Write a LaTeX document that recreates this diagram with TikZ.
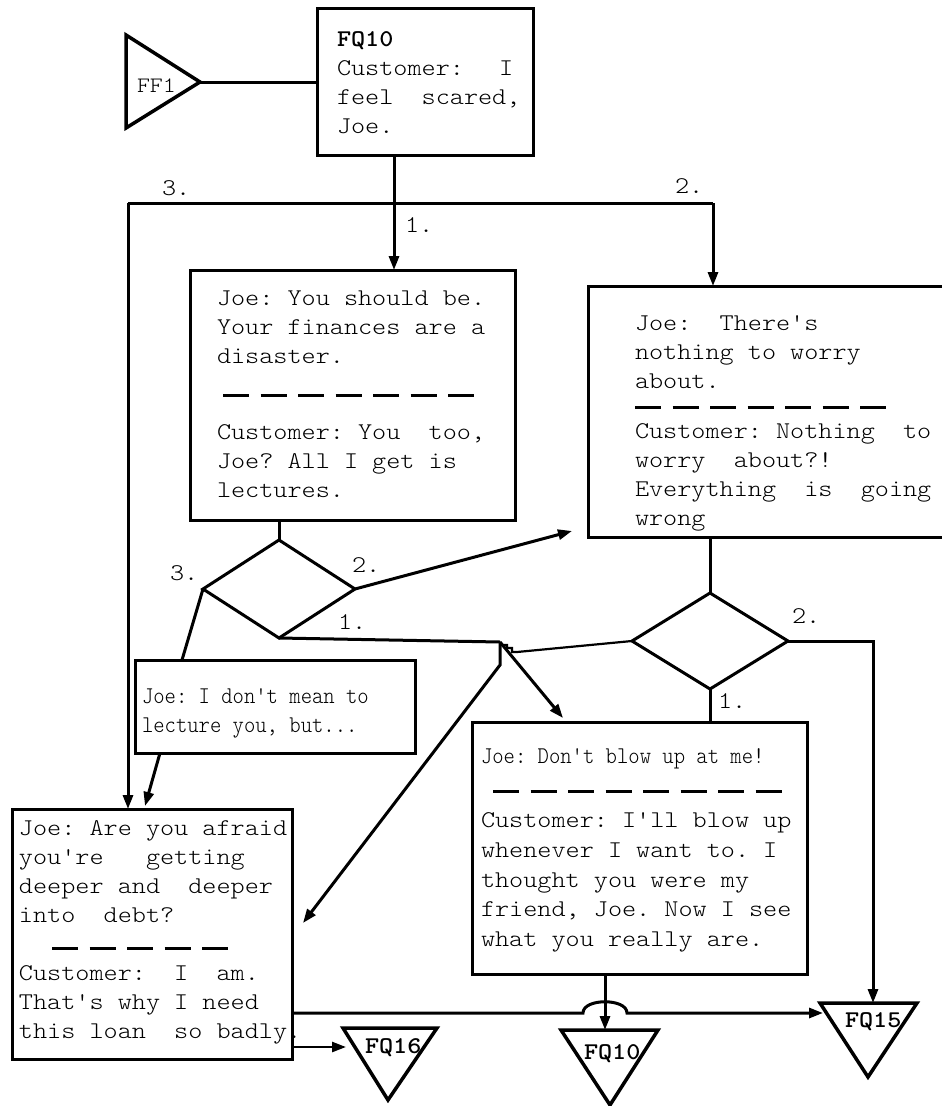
\documentclass[tikz,border=0pt]{standalone}
\usepackage{fontspec}
\setmonofont{lmmonolt10-regular.otf}[BoldFont=lmmonolt10-bold.otf,FakeStretch=1.12]
\newfontfamily\narrowtt{lmmonolt10-regular.otf}[FakeStretch=0.9,WordSpace={1,0,0},PunctuationSpace=WordSpace]
\usetikzlibrary{shapes.geometric,arrows.meta,calc}
\newcommand\dlgfont{\ttfamily\fontsize{24pt}{29pt}\selectfont}
\frenchspacing

\begin{document}
\begin{tikzpicture}[x=1pt,y=-1pt,
  every node/.style={inner sep=0pt, outer sep=0pt},
  box/.style={draw, line width=3pt, rectangle, anchor=north west},
  txt/.style={anchor=base west, font=\dlgfont},
  lbl/.style={anchor=base west, font=\dlgfont},
  tag/.style={anchor=base west, font=\dlgfont\bfseries},
  wire/.style={line width=3pt},
  arr/.style={line width=3pt, -{Triangle[length=14pt,width=10pt]}},
  tri/.style={draw, line width=3.5pt, line join=miter},
  sep/.style={line width=3pt, dash pattern=on 26pt off 11.5pt},
  diam/.style={draw, diamond, line width=3pt, inner sep=0pt}
]
\fill[white] (0,0) rectangle (942,1106);
\useasboundingbox (0,0) rectangle (942,1106);
\clip (0,0) rectangle (942,1106);

% ---------- boxes ----------
\node[box, minimum width=216pt, minimum height=147pt] (fq) at (317,8) {};
\node[box, minimum width=325pt, minimum height=250pt] (A)  at (190,270) {};
\node[box, minimum width=400pt, minimum height=251pt] (B)  at (588,286) {};
\node[box, minimum width=280pt, minimum height=93pt]  (C)  at (135,660) {};
\node[box, minimum width=280pt, minimum height=250pt] (D)  at (12,809) {};
\node[box, minimum width=335pt, minimum height=252pt] (E)  at (472,722) {};

% ---------- decisions ----------
\node[diam, minimum width=152pt, minimum height=98pt] (d1) at (279,589) {};
\node[diam, minimum width=156pt, minimum height=96pt] (d2) at (710,641) {};

% ---------- box texts ----------
\node[txt] (fqtxt) at (337,46) {\parbox[t]{400pt}{\raggedright
  \textbf{FQ10}\\
  Customer:~~\hspace{7pt}I\\
  feel~~scared,\\
  Joe.}};

\node[txt] (Atxt) at (217,305) {\parbox[t]{400pt}{\raggedright
  Joe: You should be.\\
  Your finances are a\\
  disaster.\\[47pt]
  Customer: You~~too,\\
  Joe? All I get is\\
  lectures.}};
\draw[sep] (223,395) -- (474,395);

\node[txt] (Btxt) at (635,330) {\parbox[t]{400pt}{\raggedright
  Joe:~~There's\\
  nothing to worry\\
  about.\\[21pt]
  Customer: Nothing~~to\\
  worry~~about?!\\
  Everything~~is~~going\\
  wrong}};
\draw[sep] (635,407) -- (886,407);

\node[txt] (Ctxt) at (142,703) {\parbox[t]{400pt}{\raggedright\narrowtt
  Joe: I don't mean to\\
  lecture you, but...}};

\node[txt] (Dtxt) at (19,835) {\parbox[t]{400pt}{\raggedright
  Joe: Are you afraid\\
  you're~~~getting\\
  deeper and~~deeper\\
  into~~debt?\\[29pt]
  Customer:~~I~~am.\\
  That's why I need\\
  this loan~~so badly.}};
\draw[sep] (52,948) -- (228,948);

\node[txt] (Etxt) at (481,763) {\parbox[t]{400pt}{\raggedright
  \fontsize{24pt}{29.7pt}\selectfont
  {\narrowtt Joe: Don't blow up at me!}\\[35pt]
  Customer: I'll blow up\\
  whenever I want to. I\\
  thought you were my\\
  friend, Joe. Now I see\\
  what you really are.}};
\draw[sep] (493,791) -- (781.5,791);

% ---------- off-page connectors ----------
\coordinate (ff1a) at (126,35);
\coordinate (ff1b) at (126,128);
\coordinate (ff1tip) at (200,82);
\draw[tri] (ff1a) -- (ff1tip) -- (ff1b) -- cycle;
\node[lbl, font=\ttfamily\fontsize{22pt}{26pt}\selectfont] (ff1) at (137,92) {FF1};

\coordinate (fq16a) at (343,1028);
\coordinate (fq16b) at (437,1028);
\coordinate (fq16c) at (388,1100);
\draw[tri] (fq16a) -- (fq16b) -- (fq16c) -- cycle;
\node[tag] (fq16) at (365,1053) {FQ16};

\coordinate (fq10a) at (561,1030);
\coordinate (fq10b) at (658,1030);
\coordinate (fq10c) at (610,1105);
\draw[tri] (fq10a) -- (fq10b) -- (fq10c) -- cycle;
\node[tag] (fq10) at (584,1059) {FQ10};

\coordinate (fq15a) at (820,1003);
\coordinate (fq15b) at (917,1003);
\coordinate (fq15c) at (868,1077);
\draw[tri] (fq15a) -- (fq15b) -- (fq15c) -- cycle;
\node[tag] (fq15) at (845,1027) {FQ15};

% ---------- connectors ----------
\draw[wire] (ff1tip) -- (ff1tip -| fq.west);

\coordinate (j3) at (128,203);
\coordinate (j2) at (713,203);
\coordinate (jf) at (394,203);
\draw[wire] (j3) -- (j2);
\draw[arr] (fq.south -| jf) -- (A.north -| jf);
\draw[arr] (j3) -- (D.north -| j3);
\draw[arr] (j2) -- (B.north -| j2);
\node[lbl] (l3top) at (162,195) {3.};
\node[lbl] (l1top) at (405,232) {1.};
\node[lbl] (l2top) at (675,193) {2.};

\draw[wire] (A.south -| d1.north) -- (d1.north);
\coordinate (bentry) at (572,531);
\draw[arr] (d1.east) -- (bentry);
\coordinate (centry) at (182,660);
\draw[wire] (d1.west) -- (centry);
\coordinate (cexit) at (160,753);
\coordinate (dentryc) at (145,806);
\draw[arr] (cexit) -- (dentryc);
\node[lbl] (l3d1) at (170,580) {3.};
\node[lbl] (l2d1) at (352,572) {2.};
\node[lbl] (l1d1) at (338,629) {1.};

\coordinate (jx) at (500,642);
\coordinate (jxbend) at (500,665);
\coordinate (dentry) at (303,923);
\coordinate (eentry) at (563,718);
\coordinate (jxstep) at (517,652);
\draw[wire] (d1.south) -- (jx);
\draw[arr] (jx) -- (jxbend) -- (dentry);
\draw[arr] (jx) -- (eentry);
\draw[line width=2.2pt] (d2.west) -- (jxstep) -- ++(-5,0) -- ++(0,-4) -- ++(-5,0)
  -- ++(0,-3) -- ++(-5,0) -- (jx);

\draw[wire] (B.south -| d2.north) -- (d2.north);
\draw[wire] (d2.south) -- (d2.south |- E.north);
\coordinate (rcorner) at (873,641);
\coordinate (fq15top) at (873,1003);
\draw[arr] (d2.east) -- (rcorner) -- (fq15top);
\node[lbl] (l2d2) at (792,623) {2.};
\node[lbl] (l1d2) at (718,708) {1.};

\coordinate (fqbtop) at (605,1030);
\draw[arr] (E.south -| fqbtop) -- (fqbtop);

\coordinate (hopl) at (583,1013);
\coordinate (hopr) at (627,1013);
\coordinate (fq15in) at (823,1013);
\draw[arr] (D.east |- hopl) -- (hopl) .. controls (583,998) and (627,998) .. (hopr) -- (fq15in);

\coordinate (fq16in) at (346,1047);
\draw[arr, line width=2.5pt] (D.east |- fq16in) -- (fq16in);
\end{tikzpicture}
\end{document}
